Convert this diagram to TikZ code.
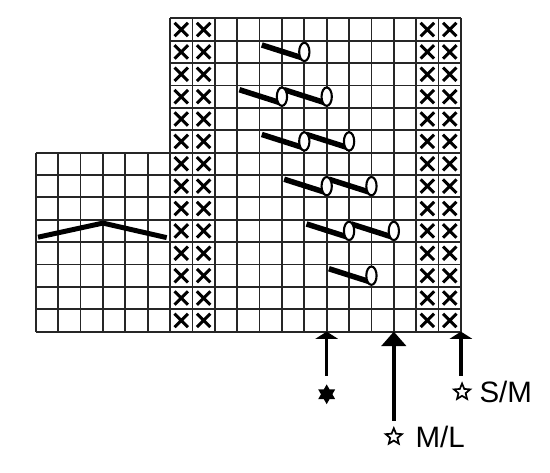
\documentclass[tikz,border=0pt]{standalone}
\usepackage{fontspec}
\setmainfont{Liberation Sans}
\usetikzlibrary{arrows.meta}
\begin{document}
\begin{tikzpicture}[x=0.6cm,y=0.6cm,
  gridline/.style={line width=1.4pt, draw=black!85},
  xmark/.style={line width=2.3pt, draw=black},
  cablestroke/.style={line width=4.2pt, line cap=butt, draw=black},
  loopoval/.style={line width=1.6pt, fill=white, draw=black},
  chev/.style={line width=3.8pt, line join=miter, draw=black},
  upshaft/.style={line width=2.5pt, -{Triangle[width=17pt,length=5.5pt]}},
  bigshaft/.style={line width=2.8pt, -{Triangle[width=18.5pt,length=11pt]}},
  ostar/.style={line width=1.3pt, draw=black, fill=white, line join=miter},
  lbl/.style={font=\fontsize{22.5}{27}\selectfont, anchor=base west, inner sep=0pt},
]
\useasboundingbox (-7.6,-6.3) rectangle (16.98,14.82);
% grids
\draw[gridline] (0,0) grid[step={(1,1)}] (13,14);
\draw[gridline] (-6,0) grid[step={(1,1)}] (0,8);
% x marks
\foreach \c in {0,1,11,12} \foreach \r in {0,...,13} {
  \draw[xmark] (\c+0.2,\r+0.2) -- (\c+0.8,\r+0.8) (\c+0.2,\r+0.8) -- (\c+0.8,\r+0.2);
}
% chevron on left grid
\draw[chev] (-5.9,4.22) -- (-3,4.85) -- (-0.15,4.2);
% cable strokes
\foreach \c/\y in {6/12.5,5/10.5,7/10.5,6/8.5,8/8.5,7/6.5,9/6.5,8/4.5,10/4.5,9/2.5}
  \draw[cablestroke] (\c-1.9,\y+0.31) -- (\c-0.05,\y-0.28);
\foreach \c/\y in {6/12.5,5/10.5,7/10.5,6/8.5,8/8.5,7/6.5,9/6.5,8/4.5,10/4.5,9/2.5}
  \draw[loopoval] (\c,\y) ellipse [x radius=0.23, y radius=0.41];
% arrows
\coordinate (a1top) at (7,0);  \coordinate (a1bot) at (7,-1.98);
\coordinate (a2top) at (10,0); \coordinate (a2bot) at (10,-3.99);
\coordinate (a3top) at (13,0); \coordinate (a3bot) at (13,-1.98);
\draw[upshaft] (a1bot) -- (a1top);
\draw[bigshaft] (a2bot) -- (a2top);
\draw[upshaft] (a3bot) -- (a3top);
% filled six-pointed star
\fill[shift={(7,-2.8)}] (90:0.44) -- (210:0.44) -- (330:0.44) -- cycle
  (270:0.44) -- (30:0.44) -- (150:0.44) -- cycle;
% outline stars
\foreach \sx/\sy in {13.05/-2.7, 10/-4.7}
  \draw[ostar, shift={(\sx,\sy)}] (90:0.38) -- (126:0.17) -- (162:0.38) -- (198:0.17) -- (234:0.38)
    -- (270:0.17) -- (306:0.38) -- (342:0.17) -- (18:0.38) -- (54:0.17) -- cycle;
% labels
\node[lbl] (sm) at (13.82,-3.19) {S/M};
\node[lbl] (ml) at (10.96,-5.17) {M/L};
\end{tikzpicture}
\end{document}
